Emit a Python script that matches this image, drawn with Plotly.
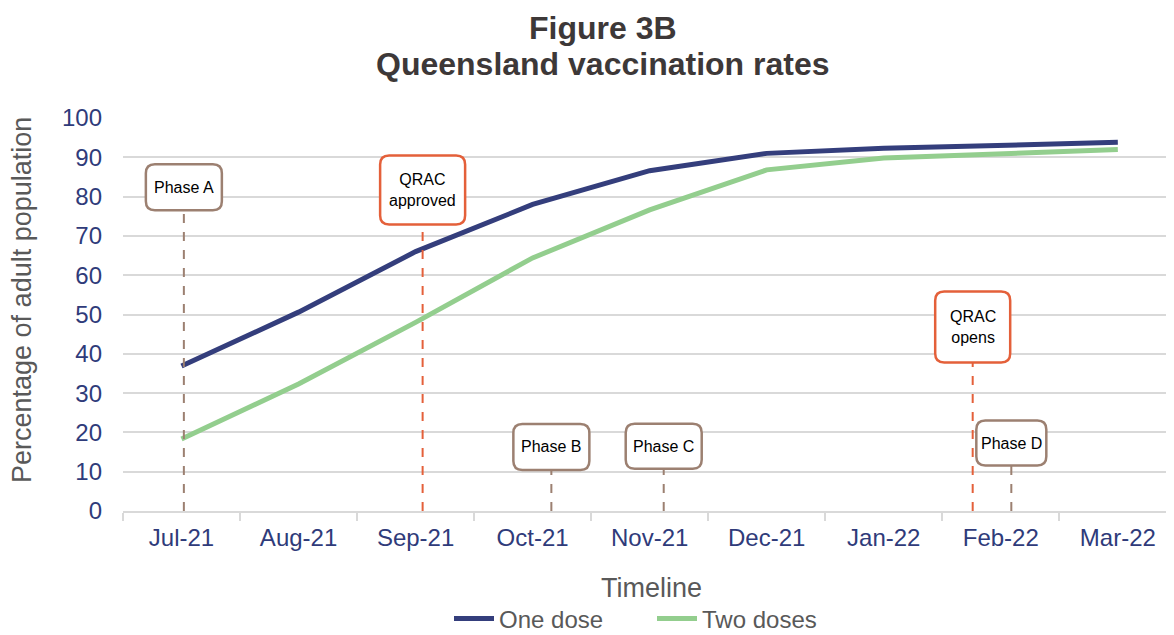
import plotly.graph_objects as go

# ---- data ----
months = ["Jul-21", "Aug-21", "Sep-21", "Oct-21", "Nov-21", "Dec-21", "Jan-22", "Feb-22", "Mar-22"]
one_dose = [36.9, 50.6, 66.0, 78.0, 86.6, 91.0, 92.3, 93.0, 93.8]
two_doses = [18.3, 32.3, 48.0, 64.4, 76.6, 86.8, 89.8, 91.0, 92.0]

event_labels = ["Phase A", "QRAC<br>approved", "Phase B", "Phase C", "QRAC<br>opens", "Phase D"]
event_x = [0.02, 2.06, 3.16, 4.12, 6.76, 7.09]          # position along the timeline (category index)
event_label_y = [82.4, 81.7, 16.3, 16.5, 46.8, 17.3]    # where each label box sits on the y scale
event_kind = ["phase", "qrac", "phase", "phase", "qrac", "phase"]

# ---- styles ----
FONT = "Liberation Sans, Arial, sans-serif"
NAVY = "#343E7C"
GREEN = "#93CE8E"
TICK_COL = "#2F3B7A"
GREY_TXT = "#595959"
GRID = "#D9D9D9"
KIND_COLOR = {"phase": "#9C8071", "qrac": "#E4603A"}
BOX_SIZE = {"Phase A": (76, 46), "QRAC<br>approved": (85, 69), "Phase B": (76, 46),
            "Phase C": (76, 45), "QRAC<br>opens": (75, 71), "Phase D": (70, 45)}

# page body has an 8px default margin: compensate so the plot lands where the reference has it
OFF = 8
PAGE_W, PAGE_H = 1174, 635
L, T, W_PLOT, H_PLOT = 123, 118, 1051, 393   # plot area in screen pixels
FIG_W, FIG_H = PAGE_W - OFF, PAGE_H - OFF

fig = go.Figure()
fig.add_trace(go.Scatter(x=months, y=one_dose, mode="lines", name="One dose",
                         line=dict(color=NAVY, width=5)))
fig.add_trace(go.Scatter(x=months, y=two_doses, mode="lines", name="Two doses",
                         line=dict(color=GREEN, width=5)))


def rounded_path(w, h, r):
    x0, x1 = -w / 2, w / 2
    y0, y1 = -h / 2, h / 2
    return (f"M {x0 + r},{y0} L {x1 - r},{y0} Q {x1},{y0} {x1},{y0 + r} "
            f"L {x1},{y1 - r} Q {x1},{y1} {x1 - r},{y1} L {x0 + r},{y1} "
            f"Q {x0},{y1} {x0},{y1 - r} L {x0},{y0 + r} Q {x0},{y0} {x0 + r},{y0} Z")


for lab, ex, ey, kind in zip(event_labels, event_x, event_label_y, event_kind):
    col = KIND_COLOR[kind]
    fig.add_shape(type="line", xref="x", yref="y", x0=ex, x1=ex, y0=0, y1=ey,
                  line=dict(color=col, width=2, dash="dash"))
    w, h = BOX_SIZE[lab]
    fig.add_shape(type="path", xref="x", yref="y", xsizemode="pixel", ysizemode="pixel",
                  xanchor=ex, yanchor=ey, path=rounded_path(w, h, 9),
                  fillcolor="white", line=dict(color=col, width=2.5))
    fig.add_annotation(x=ex, y=ey, xref="x", yref="y", text=lab, showarrow=False,
                       xanchor="center", yanchor="middle",
                       font=dict(family=FONT, size=16, color="#000000"))


def px(xp):
    return (xp - L) / W_PLOT


def py(yp):
    return (T + H_PLOT - yp) / H_PLOT


def paper_text(text, xp, yp, size, color, angle=0):
    fig.add_annotation(text=text, xref="paper", yref="paper", x=px(xp), y=py(yp),
                       xanchor="center", yanchor="middle", showarrow=False, textangle=angle,
                       font=dict(family=FONT, size=size, color=color))


# titles
paper_text("<b>Figure 3B</b>", 603, 28, 32, "#3D3838")
paper_text("<b>Queensland vaccination rates</b>", 603, 64, 32, "#3D3838")
paper_text("Timeline", 651, 588, 27, GREY_TXT)
paper_text("Percentage of adult population", 22, 300, 27, GREY_TXT, angle=-90)

fig.update_layout(
    width=FIG_W, height=FIG_H,
    margin=dict(l=L - OFF, r=FIG_W - (L - OFF) - W_PLOT, t=T - OFF,
                b=FIG_H - (T - OFF) - H_PLOT, autoexpand=False),
    paper_bgcolor="white", plot_bgcolor="white",
    font=dict(family=FONT),
    showlegend=True,
    legend=dict(orientation="h", xref="paper", x=px(652), xanchor="center",
                yref="paper", y=py(619), yanchor="middle",
                font=dict(family=FONT, size=24, color=GREY_TXT),
                itemwidth=40, entrywidth=148, entrywidthmode="pixels", tracegroupgap=0),
)
fig.update_xaxes(type="category", categoryorder="array", categoryarray=months,
                 range=[-0.5, 8.48], tickson="boundaries", ticks="outside", ticklen=8,
                 tickcolor=GRID, tickwidth=1.5, showline=True, linecolor=GRID, linewidth=1.5,
                 showgrid=False, tickfont=dict(family=FONT, size=24, color=TICK_COL),
                 ticklabelstandoff=4, automargin=False)
fig.update_yaxes(range=[0, 100], dtick=10, showgrid=True, gridcolor=GRID, gridwidth=1.5,
                 zeroline=False, showline=False, ticks="",
                 tickfont=dict(family=FONT, size=24, color=TICK_COL), ticklabelstandoff=20,
                 automargin=False)

fig.write_html("out.html")
